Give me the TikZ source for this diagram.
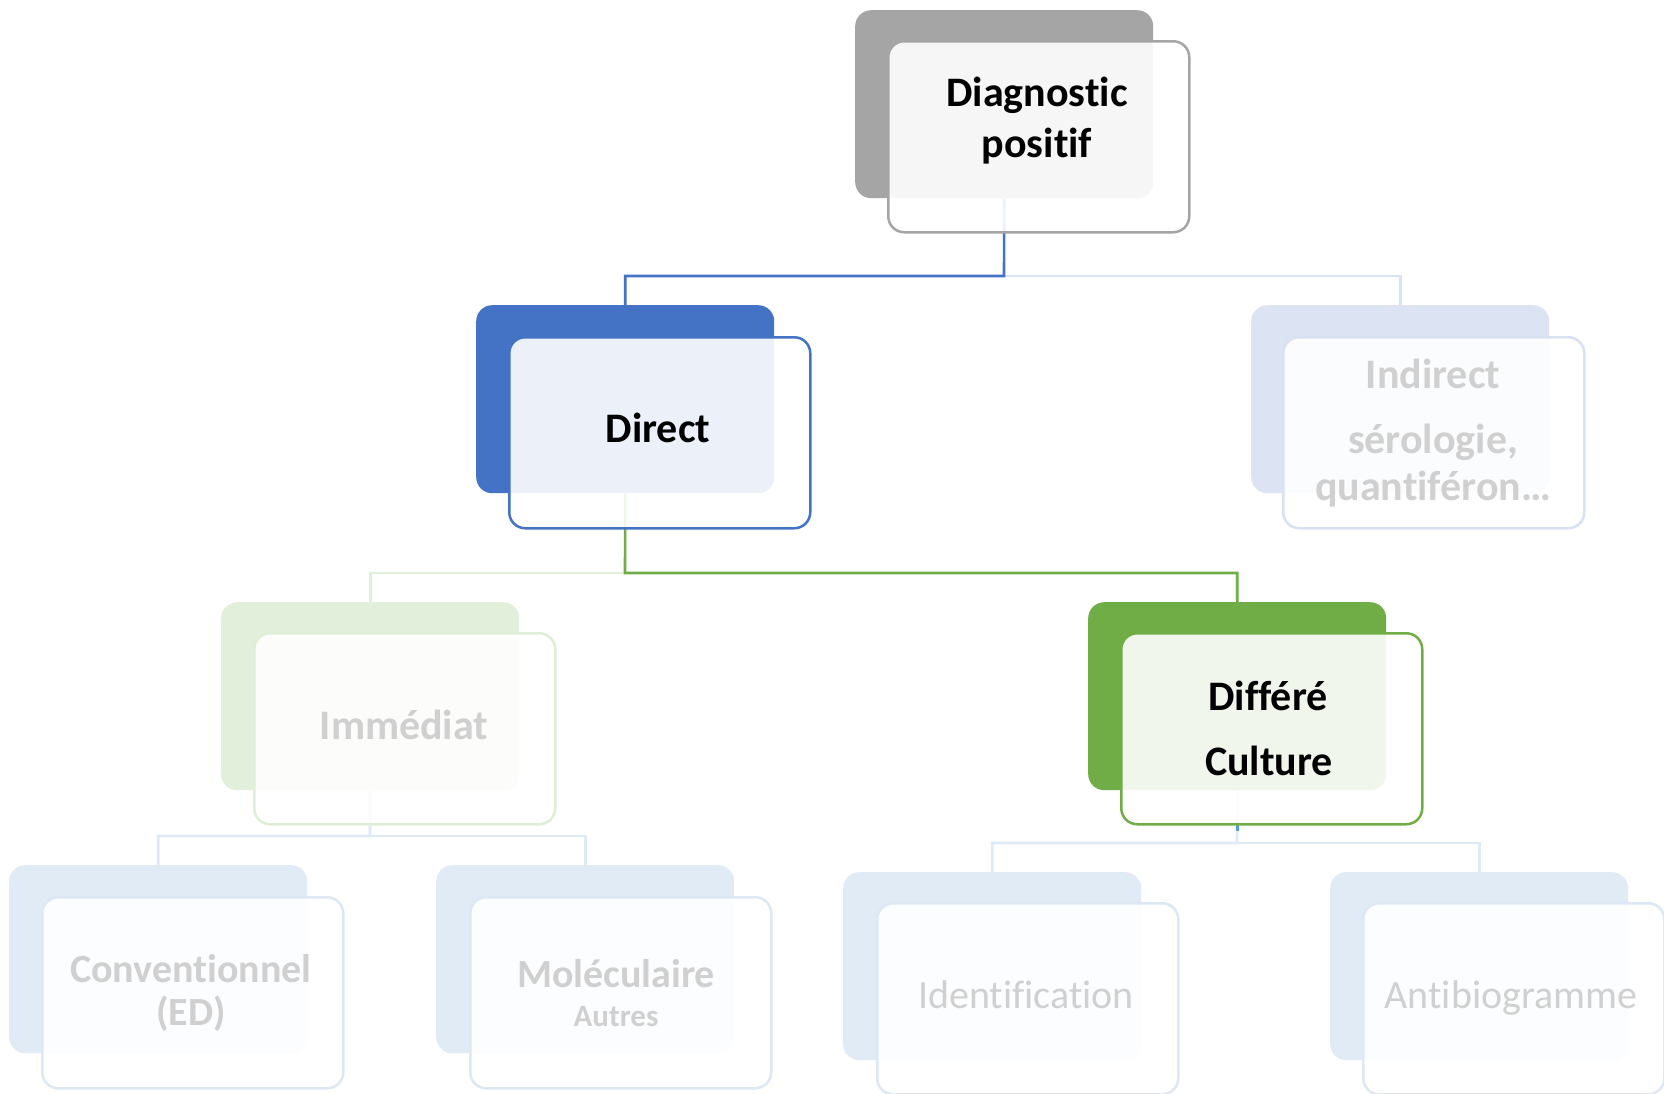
\documentclass[tikz,border=0pt]{standalone}
\usepackage{fontspec}
\setmainfont{Carlito}[Ligatures=NoCommon]
\definecolor{cgray}{HTML}{A5A5A5}
\definecolor{cblue}{HTML}{4472C4}
\definecolor{cgreen}{HTML}{70AD47}
\definecolor{cblueL}{HTML}{5B9BD5}
\definecolor{fIndB}{HTML}{DCE3F2}
\definecolor{fIndF}{HTML}{D9E1F2}
\definecolor{fImmB}{HTML}{E2EFDA}
\definecolor{fImmF}{HTML}{E0EED7}
\definecolor{fBotB}{HTML}{E1EBF5}
\definecolor{fBotF}{HTML}{DDE8F4}
\definecolor{ftxt}{HTML}{D0D0D0}
\definecolor{lnBlue}{HTML}{DAE3F3}
\definecolor{lnGreen}{HTML}{E2F0D9}
\definecolor{lnBot}{HTML}{DEEAF6}
\begin{document}
\begin{tikzpicture}[x=1pt,y=-1pt,
  backbox/.style={rectangle, rounded corners=16pt, minimum width=298pt, minimum height=188pt, anchor=north west, inner sep=0pt, draw=none},
  frontbox/.style={rectangle, rounded corners=16pt, minimum width=301pt, minimum height=191pt, anchor=north west, inner sep=0pt, fill=white, fill opacity=0.9, line width=2.5pt},
  lbl/.style={anchor=base, inner sep=0pt, font=\fontsize{42}{50}\selectfont\bfseries},
  lblsm/.style={anchor=base, inner sep=0pt, font=\fontsize{40}{48}\selectfont\bfseries},
  lblreg/.style={anchor=base, inner sep=0pt, font=\fontsize{40}{48}\selectfont},
  conn/.style={line width=2.6pt}
]
\useasboundingbox (0,0) rectangle (1664,1093);
\fill[white] (0,0) rectangle (1664,1093);

% back boxes
\node[backbox, fill=cgray] (dpb) at (855,10) {};
\node[backbox, fill=cblue] (dirb) at (476,305) {};
\node[backbox, fill=fIndB] (indb) at (1251,305) {};
\node[backbox, fill=fImmB] (immb) at (221,602) {};
\node[backbox, fill=cgreen] (difb) at (1088,602) {};
\node[backbox, fill=fBotB] (convb) at (9,865) {};
\node[backbox, fill=fBotB] (molb) at (436,865) {};
\node[backbox, fill=fBotB] (idfb) at (843,872) {};
\node[backbox, fill=fBotB] (atbb) at (1330,872) {};

% junctions
\coordinate (bar1) at (1004,276);
\coordinate (bar2) at (625,573);
\coordinate (bar3) at (370,836);
\coordinate (bar4) at (1237,843);

% connectors
\draw[conn, lnBlue] (bar1) -| (indb.north);
\draw[conn, cblue] (dpb.south) -- (bar1) -| (dirb.north);
\draw[conn, lnGreen] (bar2) -| (immb.north);
\draw[conn, cgreen] (dirb.south) -- (bar2) -| (difb.north);
\draw[conn, lnBot] (immb.south) -- (bar3) -| (convb.north);
\draw[conn, lnBot] (bar3) -| (molb.north);
\draw[conn, lnBot] (difb.south) -- (bar4) -| (idfb.north);
\draw[conn, lnBot] (bar4) -| (atbb.north);
\draw[conn, cblueL] ([yshift=-33pt]difb.south) -- ([yshift=-41pt]difb.south);

% front boxes
\node[frontbox, draw=cgray] (dpf) at (887,40) {};
\node[frontbox, draw=cblue] (dirf) at (508,336) {};
\node[frontbox, draw=fIndF] (indf) at (1282,336) {};
\node[frontbox, draw=fImmF] (immf) at (253,632) {};
\node[frontbox, draw=cgreen] (diff) at (1120,632) {};
\node[frontbox, draw=fBotF] (convf) at (41,896) {};
\node[frontbox, draw=fBotF] (molf) at (469,896) {};
\node[frontbox, draw=fBotF] (idff) at (876,902) {};
\node[frontbox, draw=fBotF] (atbf) at (1362,902) {};

% labels
\node[lbl] (t1a) at (1037,106) {Diagnostic};
\node[lbl] (t1b) at (1037,157) {positif};
\node[lbl] (t2) at (658,442) {Direct};
\node[lbl, text=ftxt] (t3a) at (1433,388) {Indirect};
\node[lbl, text=ftxt] (t3b) at (1433,453) {sérologie,};
\node[lbl, text=ftxt] (t3c) at (1433,500) {quantiféron…};
\node[lbl, text=ftxt] (t4) at (404,739) {Immédiat};
\node[lbl] (t5a) at (1268,710) {Différé};
\node[lbl] (t5b) at (1269,775) {Culture};
\node[lblsm, text=ftxt] (t6a) at (191,982) {Conventionnel};
\node[lblsm, text=ftxt] (t6b) at (191,1025) {(ED)};
\node[lblsm, text=ftxt] (t7a) at (616,987) {Moléculaire};
\node[anchor=base, inner sep=0pt, font=\fontsize{31}{37}\selectfont\bfseries, text=ftxt] (t7b) at (616,1026) {Autres};
\node[lblreg, text=ftxt] (t8) at (1026,1008) {Identification};
\node[lblreg, text=ftxt] (t9) at (1511,1008) {Antibiogramme};
\end{tikzpicture}
\end{document}
